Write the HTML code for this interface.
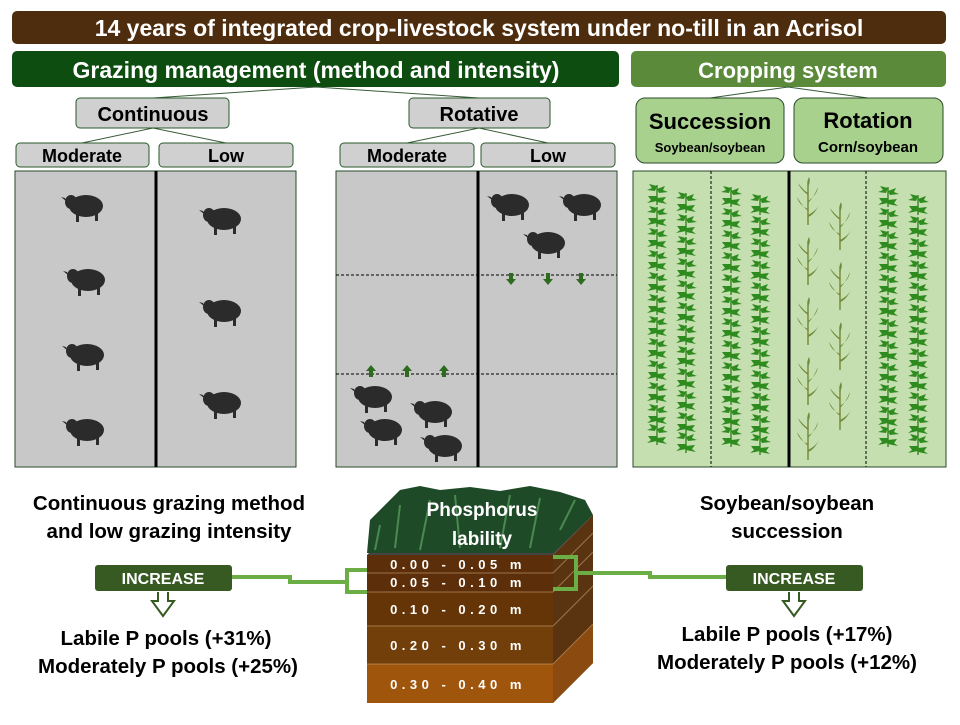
<!DOCTYPE html>
<html><head><meta charset="utf-8"><style>
body{margin:0;background:#fff}
svg text{font-family:"Liberation Sans",sans-serif;font-weight:bold}
</style></head><body>
<svg width="960" height="720" viewBox="0 0 960 720" xmlns="http://www.w3.org/2000/svg">
<defs>
<g id="sheep">
 <ellipse cx="22" cy="13" rx="17" ry="11" fill="#2b2b2b"/>
 <ellipse cx="7" cy="9" rx="6" ry="7" fill="#2b2b2b"/>
 <path d="M1 5 L-3 4 L2 8Z" fill="#2b2b2b"/>
 <rect x="12" y="20" width="3" height="9" fill="#2b2b2b"/>
 <rect x="31" y="20" width="3" height="8" fill="#2b2b2b"/>
</g>
<g id="soy">
 <line x1="0" y1="-10" x2="0" y2="10" stroke="#3b8a2a" stroke-width="1.5"/>
 <path d="M0 -9 l-8 -2 l3 4 l-5 2 l8 1Z M0 -6 l8 -3 l-2 4 l5 2 l-9 1Z M0 1 l-9 0 l3 4 l-4 3 l10 -2Z M0 3 l9 -1 l-3 4 l4 3 l-10 -2Z" fill="#2e8b1e"/>
</g>
<g id="corn">
 <line x1="0" y1="-20" x2="0" y2="20" stroke="#7a8a3a" stroke-width="1.5"/>
 <path d="M0 -10 Q-8 -16 -10 -22 Q-4 -14 0 -12Z M0 -4 Q9 -10 10 -18 Q6 -8 0 -2Z M0 4 Q-9 0 -11 -8 Q-5 2 0 6Z M0 10 Q8 6 11 0 Q6 10 0 12Z M0 -18 Q3 -24 1 -28 Q-2 -22 0 -18Z" fill="#6f8a3a"/>
</g>
<g id="up"><path d="M0 -6 L5 0 L2 0 L2 6 L-2 6 L-2 0 L-5 0Z" fill="#2e6b1e"/></g>
<g id="dn"><path d="M0 6 L5 0 L2 0 L2 -6 L-2 -6 L-2 0 L-5 0Z" fill="#2e6b1e"/></g>
<g id="soycol">
<use href="#soy" x="0" y="195"/><use href="#soy" x="0" y="217"/><use href="#soy" x="0" y="239"/><use href="#soy" x="0" y="261"/><use href="#soy" x="0" y="283"/><use href="#soy" x="0" y="305"/><use href="#soy" x="0" y="327"/><use href="#soy" x="0" y="349"/><use href="#soy" x="0" y="371"/><use href="#soy" x="0" y="393"/><use href="#soy" x="0" y="415"/><use href="#soy" x="0" y="435"/>
</g>
</defs>

<!-- title -->
<rect x="12" y="11" width="934" height="33" rx="5" fill="#4e2d0e"/>
<text x="479" y="36" font-size="23" fill="#fff" text-anchor="middle">14 years of integrated crop-livestock system under no-till in an Acrisol</text>
<rect x="12" y="51" width="607" height="36" rx="5" fill="#0e4d10"/>
<text x="316" y="78" font-size="23" fill="#fff" text-anchor="middle">Grazing management (method and intensity)</text>
<rect x="631" y="51" width="315" height="36" rx="5" fill="#5a8a3a"/>
<text x="788" y="78" font-size="22" fill="#fff" text-anchor="middle">Cropping system</text>

<!-- connector lines -->
<g stroke="#3a5a3a" stroke-width="1" fill="none">
<path d="M153 98 L316 87 L479 98"/>
<path d="M82 143 L153 128 L226 143"/>
<path d="M407 143 L479 128 L548 143"/>
<path d="M710 98 L788 87 L868 98"/>
</g>

<g font-size="20" text-anchor="middle">
<rect x="76" y="98" width="153" height="30" rx="4" fill="#d0d0d0" stroke="#2a5a2a"/>
<text x="153" y="121">Continuous</text>
<rect x="409" y="98" width="141" height="30" rx="4" fill="#d0d0d0" stroke="#2a5a2a"/>
<text x="479" y="121">Rotative</text>
</g>
<g font-size="18" text-anchor="middle">
<rect x="16" y="143" width="133" height="24" rx="4" fill="#d0d0d0" stroke="#2a5a2a"/><text x="82" y="162">Moderate</text>
<rect x="159" y="143" width="134" height="24" rx="4" fill="#d0d0d0" stroke="#2a5a2a"/><text x="226" y="162">Low</text>
<rect x="340" y="143" width="134" height="24" rx="4" fill="#d0d0d0" stroke="#2a5a2a"/><text x="407" y="162">Moderate</text>
<rect x="481" y="143" width="134" height="24" rx="4" fill="#d0d0d0" stroke="#2a5a2a"/><text x="548" y="162">Low</text>
</g>

<!-- grazing fields -->
<rect x="15" y="171" width="281" height="296" fill="#c8c8c8" stroke="#2a4a2a"/>
<line x1="156" y1="171" x2="156" y2="467" stroke="#000" stroke-width="3"/>
<rect x="336" y="171" width="281" height="296" fill="#c8c8c8" stroke="#2a4a2a"/>
<line x1="478" y1="171" x2="478" y2="467" stroke="#000" stroke-width="3"/>
<line x1="336" y1="275" x2="617" y2="275" stroke="#000" stroke-dasharray="3,2"/>
<line x1="336" y1="374" x2="617" y2="374" stroke="#000" stroke-dasharray="3,2"/>

<use href="#sheep" x="64" y="193"/><use href="#sheep" x="66" y="267"/><use href="#sheep" x="65" y="342"/><use href="#sheep" x="65" y="417"/>
<use href="#sheep" x="202" y="206"/><use href="#sheep" x="202" y="298"/><use href="#sheep" x="202" y="390"/>
<use href="#sheep" x="490" y="192"/><use href="#sheep" x="562" y="192"/><use href="#sheep" x="526" y="230"/>
<use href="#sheep" x="353" y="384"/><use href="#sheep" x="413" y="399"/><use href="#sheep" x="363" y="417"/><use href="#sheep" x="423" y="433"/>
<use href="#up" x="371" y="371"/><use href="#up" x="407" y="371"/><use href="#up" x="444" y="371"/>
<use href="#dn" x="511" y="279"/><use href="#dn" x="548" y="279"/><use href="#dn" x="581" y="279"/>

<!-- cropping -->
<rect x="636" y="98" width="148" height="65" rx="9" fill="#a9d18e" stroke="#2a4a2a"/>
<text x="710" y="129" font-size="22" text-anchor="middle">Succession</text>
<text x="710" y="152" font-size="13" text-anchor="middle">Soybean/soybean</text>
<rect x="794" y="98" width="149" height="65" rx="9" fill="#a9d18e" stroke="#2a4a2a"/>
<text x="868" y="128" font-size="22" text-anchor="middle">Rotation</text>
<text x="868" y="152" font-size="15" text-anchor="middle">Corn/soybean</text>
<rect x="633" y="171" width="313" height="296" fill="#c6dfb0" stroke="#2a4a2a"/>
<line x1="711" y1="171" x2="711" y2="467" stroke="#000" stroke-dasharray="3,2"/>
<line x1="789" y1="171" x2="789" y2="467" stroke="#000" stroke-width="3"/>
<line x1="866" y1="171" x2="866" y2="467" stroke="#000" stroke-dasharray="3,2"/>
<use href="#soycol" x="657" y="0"/>
<use href="#soycol" x="686" y="8"/>
<use href="#soycol" x="731" y="2"/>
<use href="#soycol" x="760" y="10"/>
<use href="#soycol" x="888" y="2"/>
<use href="#soycol" x="918" y="10"/>
<g>
<use href="#corn" x="808" y="205"/><use href="#corn" x="808" y="265"/><use href="#corn" x="808" y="325"/><use href="#corn" x="808" y="385"/><use href="#corn" x="808" y="440"/>
<use href="#corn" x="840" y="230"/><use href="#corn" x="840" y="290"/><use href="#corn" x="840" y="350"/><use href="#corn" x="840" y="410"/>
</g>

<!-- lower texts -->
<g font-size="20.5" text-anchor="middle" fill="#000">
<text x="169" y="510">Continuous grazing method</text>
<text x="169" y="538">and low grazing intensity</text>
<text x="787" y="510">Soybean/soybean</text>
<text x="787" y="538">succession</text>
<text x="166" y="645">Labile P pools (+31%)</text>
<text x="168" y="673">Moderately P pools (+25%)</text>
<text x="787" y="641">Labile P pools (+17%)</text>
<text x="787" y="669">Moderately P pools (+12%)</text>
</g>
<rect x="95" y="565" width="137" height="26" rx="3" fill="#375a22"/>
<text x="163" y="584" font-size="16" fill="#fff" text-anchor="middle">INCREASE</text>
<rect x="726" y="565" width="137" height="26" rx="3" fill="#375a22"/>
<text x="794" y="584" font-size="16" fill="#fff" text-anchor="middle">INCREASE</text>
<path d="M158 592 V601 H152 L163 616 L174 601 H168 V592" fill="none" stroke="#375a22" stroke-width="2"/>
<path d="M789 592 V601 H783 L794 616 L805 601 H799 V592" fill="none" stroke="#375a22" stroke-width="2"/>

<!-- soil block -->
<polygon points="553,555 593,515 593,663 553,703" fill="#5a3410"/>
<polygon points="367,555 553,555 593,515 407,515" fill="#444"/>
<rect x="367" y="555" width="186" height="18" fill="#5c2f0a"/>
<rect x="367" y="573" width="186" height="19" fill="#5c2f0a"/>
<rect x="367" y="592" width="186" height="34" fill="#653508"/>
<rect x="367" y="626" width="186" height="38" fill="#723e0a"/>
<rect x="367" y="664" width="186" height="39" fill="#a0550c"/>
<polygon points="553,664 593,624 593,663 553,703" fill="#8a4a10"/>
<g stroke="#c9a070" stroke-width="1" opacity="0.6">
<line x1="367" y1="573" x2="553" y2="573"/><line x1="367" y1="592" x2="553" y2="592"/><line x1="367" y1="626" x2="553" y2="626"/><line x1="367" y1="664" x2="553" y2="664"/>
<line x1="553" y1="573" x2="593" y2="533"/><line x1="553" y1="592" x2="593" y2="552"/><line x1="553" y1="626" x2="593" y2="586"/><line x1="553" y1="664" x2="593" y2="624"/>
</g>
<path d="M367 553 L370 520 L385 505 L400 490 L420 486 L440 490 L470 487 L500 491 L530 486 L560 492 L585 500 L593 515 L553 553Z" fill="#1f4a28"/>
<path d="M375 550 L380 525 M395 548 L400 505 M420 550 L430 500 M460 548 L455 495 M500 548 L510 495 M530 548 L540 498 M560 530 L575 500" stroke="#4a8a50" stroke-width="2"/>
<text x="482" y="516" font-size="19" fill="#fff" text-anchor="middle">Phosphorus</text>
<text x="482" y="545" font-size="19" fill="#fff" text-anchor="middle">lability</text>
<g font-size="13" fill="#fff" letter-spacing="4.5" text-anchor="middle" style="font-weight:normal">
<text x="458" y="569">0.00 - 0.05 m</text>
<text x="458" y="587">0.05 - 0.10 m</text>
<text x="458" y="614">0.10 - 0.20 m</text>
<text x="458" y="650">0.20 - 0.30 m</text>
<text x="458" y="689">0.30 - 0.40 m</text>
</g>

<!-- green connectors -->
<g fill="none" stroke="#6aae45" stroke-width="4">
<path d="M232 577 H290 V582 H347"/>
<path d="M367 570 H347 V592 H367"/>
<path d="M553 557 H576 V589 H553"/>
<path d="M576 573 H650 V577 H726"/>
</g>
</svg>
</body></html>
